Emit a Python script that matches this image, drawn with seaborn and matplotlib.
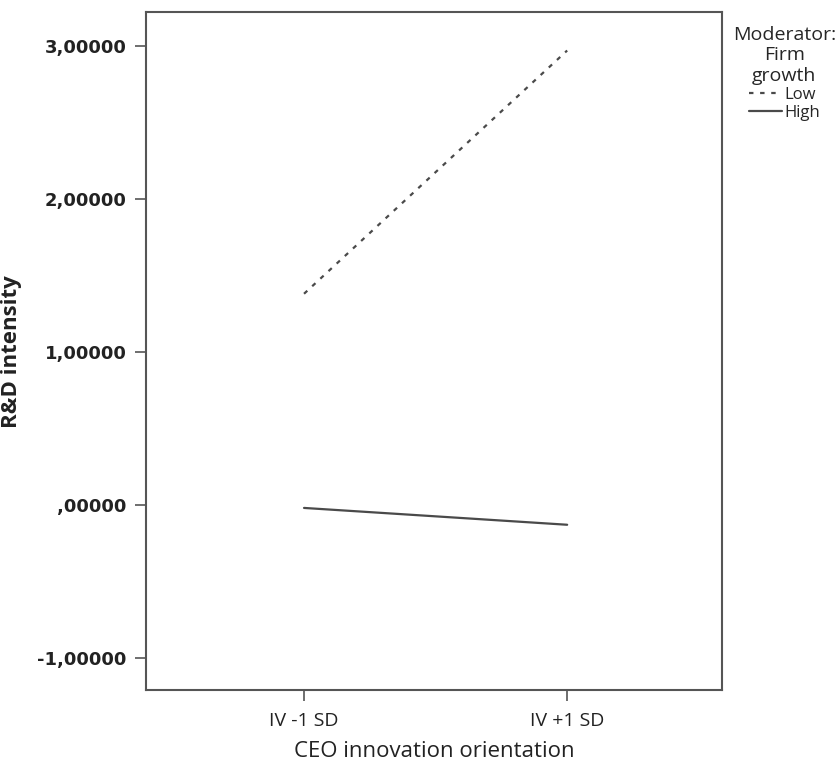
import pandas as pd
import matplotlib.pyplot as plt
import seaborn as sns

# data
levels = ["IV -1 SD", "IV +1 SD"]
low_growth = [1.38, 2.97]
high_growth = [-0.02, -0.13]
y_ticks = [3, 2, 1, 0, -1]
y_labels = ["3,00000", "2,00000", "1,00000", ",00000", "-1,00000"]

df = pd.DataFrame({
    "iv": levels * 2,
    "value": low_growth + high_growth,
    "growth": ["Low"] * 2 + ["High"] * 2,
})

sns.set_style("ticks")
fig = plt.figure(figsize=(8.4, 7.68), dpi=100)
ax = fig.add_axes([0.174, 0.1016, 0.686, 0.8824])

sns.lineplot(data=df, x="iv", y="value", style="growth", style_order=["Low", "High"],
             dashes={"Low": (2, 3), "High": ""}, color="#4a4a4a", linewidth=1.6,
             ax=ax, legend=True)

ax.set_xlim(-0.6, 1.59)
ax.set_ylim(-1.21, 3.22)
ax.set_yticks(y_ticks)
ax.set_yticklabels(y_labels, fontsize=13, fontweight="bold", family="DejaVu Sans", color="#222222")
ax.set_xticks([0, 1])
ax.set_xticklabels(levels, fontsize=14, family="Open Sans", color="#222222")
ax.tick_params(axis="both", direction="out", length=8, width=1.2, color="#555555", pad=6)
ax.tick_params(axis="x", pad=8)
for s in ax.spines.values():
    s.set_visible(True)
    s.set_color("#555555")
    s.set_linewidth(1.5)

ax.set_xlabel("CEO innovation orientation", fontsize=16, family="Open Sans", labelpad=8, color="#222222")
ax.set_ylabel("R&D intensity", fontsize=16, family="Open Sans", fontweight="bold", color="#222222")
ax.yaxis.set_label_coords(-0.215, 0.5)

leg = ax.legend(title="Moderator:\nFirm\ngrowth", loc="upper left", bbox_to_anchor=(0.995, 1.0),
                frameon=False, fontsize=12, title_fontsize=14, handlelength=2.0,
                handletextpad=0.1, borderaxespad=0.4, labelspacing=0.1)
leg.get_title().set_multialignment("center")
leg.get_title().set_family("Open Sans")
for t in leg.get_texts():
    t.set_family("Open Sans")

fig.savefig("out.png", dpi=100)
